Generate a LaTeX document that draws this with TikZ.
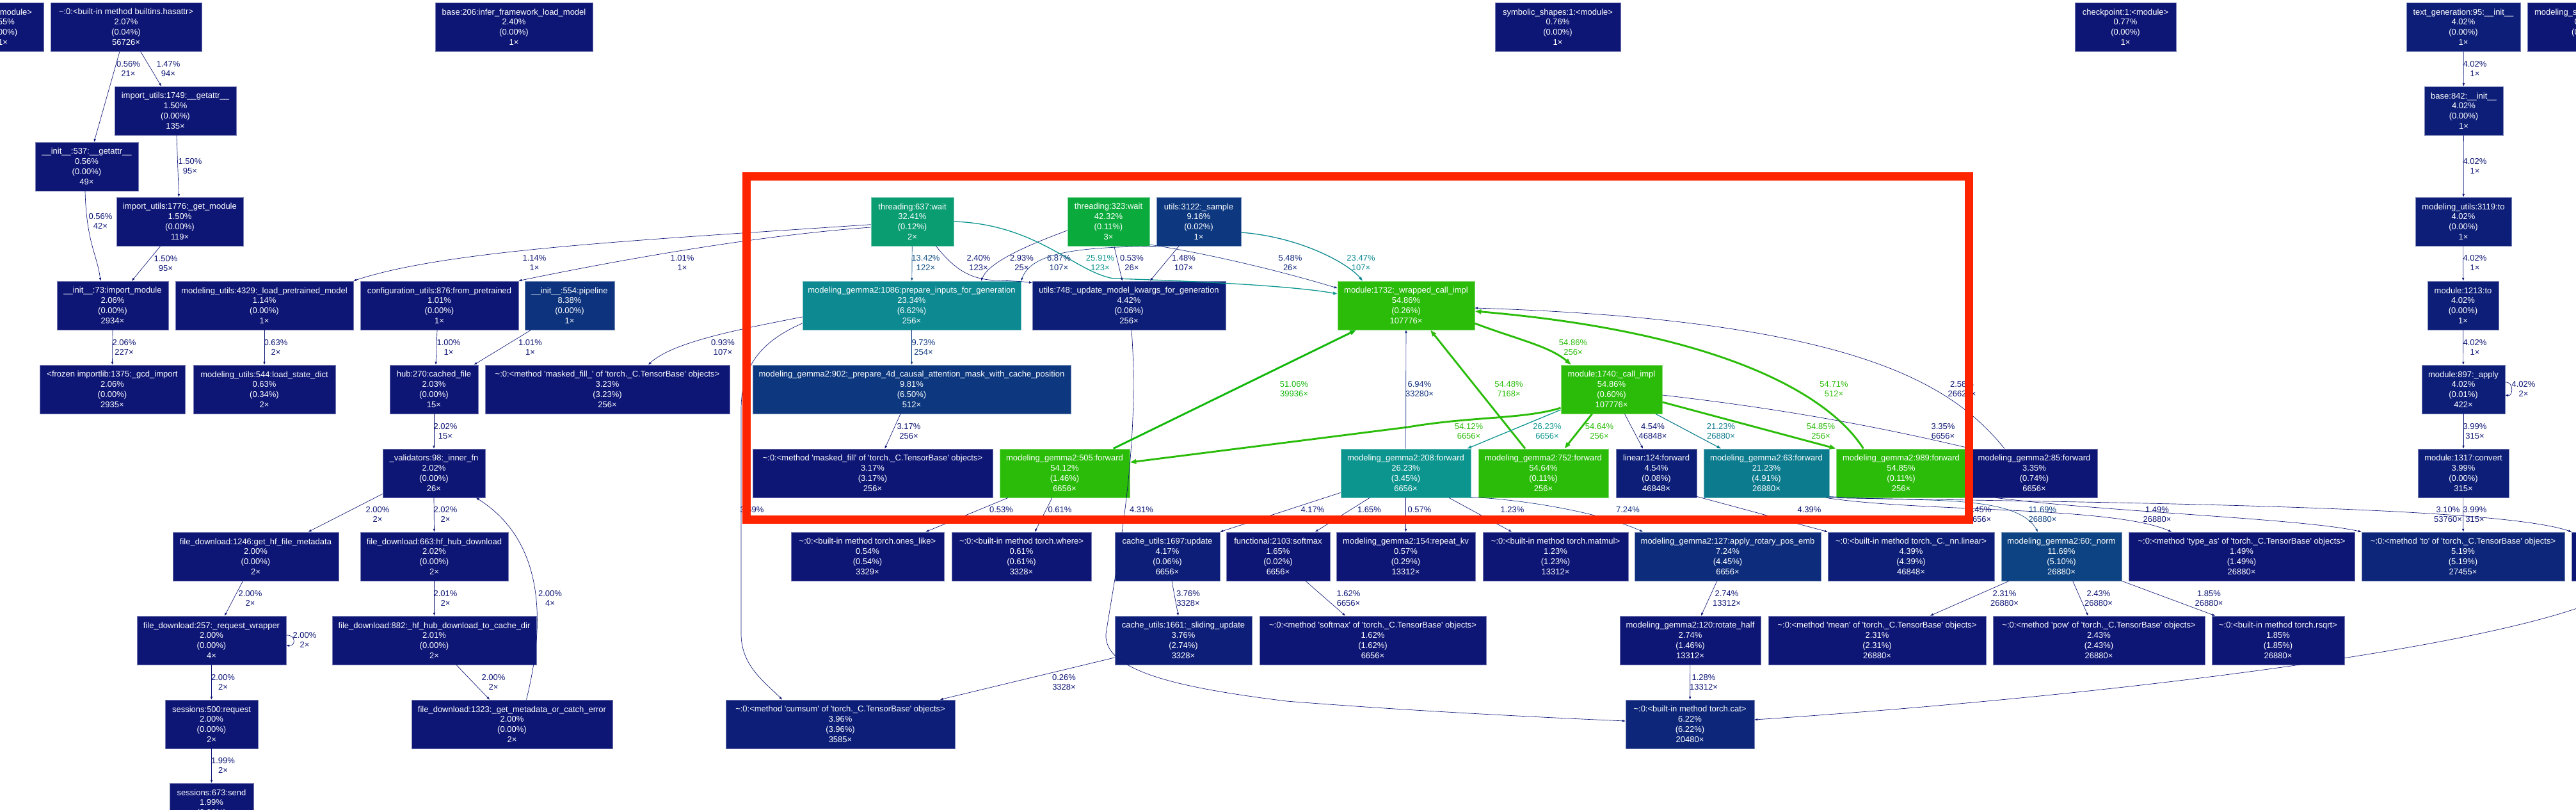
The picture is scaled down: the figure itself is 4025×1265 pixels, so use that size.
\documentclass[tikz,border=0pt]{standalone}
\usepackage{fontspec}
\setmainfont{Liberation Sans}
\usetikzlibrary{arrows.meta}
\newcommand{\gv}{\fontsize{13}{15.8}\selectfont}
\newcommand{\tbm}[1]{\textasciitilde:0:<method \textquotesingle#1\textquotesingle{} of \textquotesingle torch.\_C.TensorBase\textquotesingle{} objects>}
\newcommand{\bim}[1]{\textasciitilde:0:<built-in method #1>}
\definecolor{navy}{RGB}{13,21,117}
\definecolor{navyB}{RGB}{13,30,120}
\definecolor{blueC}{RGB}{13,38,122}
\definecolor{blueD}{RGB}{13,45,124}
\definecolor{blueE}{RGB}{13,51,126}
\definecolor{blueF}{RGB}{13,56,127}
\definecolor{blueG}{RGB}{13,67,130}
\definecolor{blueH}{RGB}{12,77,132}
\definecolor{tealA}{RGB}{12,123,142}
\definecolor{tealB}{RGB}{12,137,145}
\definecolor{tealC}{RGB}{12,149,143}
\definecolor{jade}{RGB}{11,157,114}
\definecolor{leaf}{RGB}{10,171,60}
\definecolor{lime}{RGB}{17,183,9}
\definecolor{hotgreen}{RGB}{42,188,9}
\definecolor{redframe}{RGB}{255,36,0}
\tikzset{
  fn/.style={rectangle, fill=#1, draw=#1!55!white, line width=0.9pt, text=white, align=center, inner sep=0pt, minimum height=76pt, font=\gv},
  lab/.style={text=#1, align=center, inner sep=0pt, font=\gv},
  lab/.default=navy,
  call/.style={draw=#1, line width=0.67pt, -{Triangle[length=4.7pt,width=3.3pt]}},
  call/.default=navy,
  warm/.style={draw=#1, line width=1.3pt, -{Triangle[length=6.6pt,width=4.6pt]}},
  hot/.style={draw=#1, line width=2.9pt, -{Triangle[length=9.9pt,width=6.9pt]}},
  hot/.default=hotgreen,
  hl/.style={draw=redframe, line width=13pt}
}

\begin{document}
\begin{tikzpicture}[x=1pt, y=-1pt]
\useasboundingbox (0,0) rectangle (4025,1265);
\clip (0,0) rectangle (4025,1265);
% row 1
\node[fn=navy, anchor=east, minimum width=128pt] (modtop) at (69,42) {run:1:<module>\\3.55\%\\(0.00\%)\\1×};
\node[fn=navy, minimum width=236pt] (hasattr) at (197,42) {\bim{builtins.hasattr}\\2.07\%\\(0.04\%)\\56726×};
\node[fn=navy, minimum width=246pt] (inferload) at (803,42) {base:206:infer\_framework\_load\_model\\2.40\%\\(0.00\%)\\1×};
\node[fn=navy, minimum width=196pt] (symshapes) at (2434,42) {symbolic\_shapes:1:<module>\\0.76\%\\(0.00\%)\\1×};
\node[fn=navy, minimum width=158pt] (ckpt) at (3321,42) {checkpoint:1:<module>\\0.77\%\\(0.00\%)\\1×};
\node[fn=navyB, minimum width=178pt] (textgen) at (3849,42) {text\_generation:95:\_\_init\_\_\\4.02\%\\(0.00\%)\\1×};
\node[fn=navy, anchor=west, inner xsep=10.5pt] (modcut) at (3949,42) {modeling\_siglip:1:<module>\\0.71\%\\(0.00\%)\\1×};
% rows 2 and 3
\node[fn=navy, minimum width=190pt] (getattrA) at (274,173) {import\_utils:1749:\_\_getattr\_\_\\1.50\%\\(0.00\%)\\135×};
\node[fn=navyB, minimum width=123pt] (base842) at (3849.5,173) {base:842:\_\_init\_\_\\4.02\%\\(0.00\%)\\1×};
\node[fn=navy, minimum width=161pt] (getattrB) at (135.5,260) {\_\_init\_\_:537:\_\_getattr\_\_\\0.56\%\\(0.00\%)\\49×};
% row 4
\node[fn=navy, minimum width=198pt] (getmod) at (281,346) {import\_utils:1776:\_get\_module\\1.50\%\\(0.00\%)\\119×};
\node[fn=jade, minimum width=129pt] (thr637) at (1425.5,346) {threading:637:wait\\32.41\%\\(0.12\%)\\2×};
\node[fn=leaf, minimum width=128pt] (thr323) at (1732,346) {threading:323:wait\\42.32\%\\(0.11\%)\\3×};
\node[fn=blueF, minimum width=132pt] (sample) at (1873,346) {utils:3122:\_sample\\9.16\%\\(0.02\%)\\1×};
\node[fn=navyB, minimum width=150pt] (mu3119) at (3849,346) {modeling\_utils:3119:to\\4.02\%\\(0.00\%)\\1×};
% row 5
\node[fn=navy, minimum width=174pt] (impmod) at (176,477) {\_\_init\_\_:73:import\_module\\2.06\%\\(0.00\%)\\2934×};
\node[fn=navy, minimum width=278pt] (loadpre) at (413,477) {modeling\_utils:4329:\_load\_pretrained\_model\\1.14\%\\(0.00\%)\\1×};
\node[fn=navy, minimum width=247pt] (confpre) at (686.5,477) {configuration\_utils:876:from\_pretrained\\1.01\%\\(0.00\%)\\1×};
\node[fn=blueE, minimum width=140pt] (pipeline) at (890,477) {\_\_init\_\_:554:pipeline\\8.38\%\\(0.00\%)\\1×};
\node[fn=tealB, minimum width=341pt] (prepinp) at (1424.5,477) {modeling\_gemma2:1086:prepare\_inputs\_for\_generation\\23.34\%\\(6.62\%)\\256×};
\node[fn=navyB, minimum width=302pt] (updkw) at (1764,477) {utils:748:\_update\_model\_kwargs\_for\_generation\\4.42\%\\(0.06\%)\\256×};
\node[fn=hotgreen, minimum width=214pt] (wrapped) at (2197,477) {module:1732:\_wrapped\_call\_impl\\54.86\%\\(0.26\%)\\107776×};
\node[fn=navyB, minimum width=111pt] (mod1213) at (3848.5,477) {module:1213:to\\4.02\%\\(0.00\%)\\1×};
% row 6
\node[fn=navy, minimum width=227pt] (gcdimp) at (175.5,608) {<frozen importlib:1375:\_gcd\_import\\2.06\%\\(0.00\%)\\2935×};
\node[fn=navy, minimum width=222pt] (loadsd) at (413,608) {modeling\_utils:544:load\_state\_dict\\0.63\%\\(0.34\%)\\2×};
\node[fn=navy, minimum width=138pt] (cachedf) at (678,608) {hub:270:cached\_file\\2.03\%\\(0.00\%)\\15×};
\node[fn=navy, minimum width=382pt] (mfillA) at (949,608) {\tbm{masked\_fill\_}\\3.23\%\\(3.23\%)\\256×};
\node[fn=blueF, minimum width=497pt] (prep4d) at (1424.5,608) {modeling\_gemma2:902:\_prepare\_4d\_causal\_attention\_mask\_with\_cache\_position\\9.81\%\\(6.50\%)\\512×};
\node[fn=hotgreen, minimum width=158pt] (callimpl) at (2518,608) {module:1740:\_call\_impl\\54.86\%\\(0.60\%)\\107776×};
\node[fn=navyB, minimum width=130pt] (apply897) at (3849,608) {module:897:\_apply\\4.02\%\\(0.01\%)\\422×};
% row 7
\node[fn=navy, minimum width=160pt] (innerfn) at (678,739) {\_validators:98:\_inner\_fn\\2.02\%\\(0.00\%)\\26×};
\node[fn=navy, minimum width=375pt] (mfillB) at (1363.5,739) {\tbm{masked\_fill}\\3.17\%\\(3.17\%)\\256×};
\node[fn=hotgreen, minimum width=203pt] (fwd505) at (1663.5,739) {modeling\_gemma2:505:forward\\54.12\%\\(1.46\%)\\6656×};
\node[fn=tealC, minimum width=203pt] (fwd208) at (2196.5,739) {modeling\_gemma2:208:forward\\26.23\%\\(3.45\%)\\6656×};
\node[fn=hotgreen, minimum width=203pt] (fwd752) at (2411.5,739) {modeling\_gemma2:752:forward\\54.64\%\\(0.11\%)\\256×};
\node[fn=navyB, minimum width=126pt] (lin124) at (2588,739) {linear:124:forward\\4.54\%\\(0.08\%)\\46848×};
\node[fn=tealA, minimum width=196pt] (fwd63) at (2760,739) {modeling\_gemma2:63:forward\\21.23\%\\(4.91\%)\\26880×};
\node[fn=hotgreen, minimum width=203pt] (fwd989) at (2970.5,739) {modeling\_gemma2:989:forward\\54.85\%\\(0.11\%)\\256×};
\node[fn=navy, minimum width=197pt] (fwd85) at (3178.5,739) {modeling\_gemma2:85:forward\\3.35\%\\(0.74\%)\\6656×};
\node[fn=navyB, minimum width=142pt] (convert) at (3849,739) {module:1317:convert\\3.99\%\\(0.00\%)\\315×};
% row 8
\node[fn=navy, minimum width=259pt] (hfmeta) at (399.5,869) {file\_download:1246:get\_hf\_file\_metadata\\2.00\%\\(0.00\%)\\2×};
\node[fn=navy, minimum width=231pt] (hubdl) at (678.5,869) {file\_download:663:hf\_hub\_download\\2.02\%\\(0.00\%)\\2×};
\node[fn=navy, minimum width=239pt] (oneslike) at (1355.5,869) {\bim{torch.ones\_like}\\0.54\%\\(0.54\%)\\3329×};
\node[fn=navy, minimum width=218pt] (twhere) at (1596,869) {\bim{torch.where}\\0.61\%\\(0.61\%)\\3328×};
\node[fn=navyB, minimum width=164pt] (cupdate) at (1824,869) {cache\_utils:1697:update\\4.17\%\\(0.06\%)\\6656×};
\node[fn=navy, minimum width=162pt] (fsoftmax) at (1997,869) {functional:2103:softmax\\1.65\%\\(0.02\%)\\6656×};
\node[fn=navy, minimum width=217pt] (repeatkv) at (2196.5,869) {modeling\_gemma2:154:repeat\_kv\\0.57\%\\(0.29\%)\\13312×};
\node[fn=navy, minimum width=227pt] (tmatmul) at (2430.5,869) {\bim{torch.matmul}\\1.23\%\\(1.23\%)\\13312×};
\node[fn=blueD, minimum width=291pt] (rotary) at (2699.5,869) {modeling\_gemma2:127:apply\_rotary\_pos\_emb\\7.24\%\\(4.45\%)\\6656×};
\node[fn=navyB, minimum width=260pt] (nnlinear) at (2986,869) {\bim{torch.\_C.\_nn.linear}\\4.39\%\\(4.39\%)\\46848×};
\node[fn=blueG, minimum width=188pt] (norm) at (3221,869) {modeling\_gemma2:60:\_norm\\11.69\%\\(5.10\%)\\26880×};
\node[fn=navy, minimum width=353pt] (typeas) at (3502.5,869) {\tbm{type\_as}\\1.49\%\\(1.49\%)\\26880×};
\node[fn=blueC, minimum width=317pt] (tto) at (3848.5,869) {\tbm{to}\\5.19\%\\(5.19\%)\\27455×};
\node[fn=navy, anchor=west, minimum width=90pt] (rcut) at (4018,869) {};
% row 9
\node[fn=navy, minimum width=233pt] (reqwrap) at (330.5,1000) {file\_download:257:\_request\_wrapper\\2.00\%\\(0.00\%)\\4×};
\node[fn=navy, minimum width=319pt] (hubcache) at (678.5,1000) {file\_download:882:\_hf\_hub\_download\_to\_cache\_dir\\2.01\%\\(0.00\%)\\2×};
\node[fn=navyB, minimum width=214pt] (sliding) at (1849,1000) {cache\_utils:1661:\_sliding\_update\\3.76\%\\(2.74\%)\\3328×};
\node[fn=navy, minimum width=354pt] (msoftmax) at (2145,1000) {\tbm{softmax}\\1.62\%\\(1.62\%)\\6656×};
\node[fn=navy, minimum width=220pt] (rothalf) at (2641,1000) {modeling\_gemma2:120:rotate\_half\\2.74\%\\(1.46\%)\\13312×};
\node[fn=navy, minimum width=340pt] (tmean) at (2933,1000) {\tbm{mean}\\2.31\%\\(2.31\%)\\26880×};
\node[fn=navy, minimum width=331pt] (tpow) at (3279.5,1000) {\tbm{pow}\\2.43\%\\(2.43\%)\\26880×};
\node[fn=navy, minimum width=207pt] (trsqrt) at (3559.5,1000) {\bim{torch.rsqrt}\\1.85\%\\(1.85\%)\\26880×};
% rows 10 and 11
\node[fn=navy, minimum width=145pt] (sessreq) at (330.5,1131) {sessions:500:request\\2.00\%\\(0.00\%)\\2×};
\node[fn=navy, minimum width=314pt] (metaerr) at (800,1131) {file\_download:1323:\_get\_metadata\_or\_catch\_error\\2.00\%\\(0.00\%)\\2×};
\node[fn=navyB, minimum width=358pt] (cumsum) at (1313,1131) {\tbm{cumsum}\\3.96\%\\(3.96\%)\\3585×};
\node[fn=blueC, minimum width=201pt] (tcat) at (2640.5,1131) {\bim{torch.cat}\\6.22\%\\(6.22\%)\\20480×};
\node[fn=navy, minimum width=131pt] (sesssend) at (330.5,1261) {sessions:673:send\\1.99\%\\(0.00\%)\\2×};

% loading side
\draw[call] ([xshift=-10pt]hasattr.south) -- ([xshift=11.5pt]getattrB.north);
\draw[call] ([xshift=22.6pt]hasattr.south) -- ([xshift=-22pt]getattrA.north);
\draw[call] ([xshift=2pt]getattrA.south) -- ([xshift=-1.5pt]getmod.north);
\draw[call] ([xshift=-30.4pt]getmod.south) -- ([xshift=30pt]impmod.north);
\draw[call] ([xshift=-2.5pt]getattrB.south) .. controls +(2,80) and +(-5,-40) .. ([xshift=-19pt]impmod.north);
\draw[call] (impmod.south) -- (gcdimp.north);
\draw[call] (loadpre) -- (loadsd);
\draw[call] ([xshift=-3.5pt]confpre.south) -- ([xshift=3pt]cachedf.north);
\draw[call] ([xshift=-60.4pt]pipeline.south) -- ([xshift=62.7pt]cachedf.north);
\draw[call] (cachedf) -- (innerfn);
\draw[call] ([yshift=6pt]innerfn.south west) -- ([xshift=82.3pt]hfmeta.north);
\draw[call] (innerfn.south) -- (hubdl.north);
\draw[call] ([xshift=22.5pt]metaerr.north) .. controls +(33,-133) and +(101,64) .. ([xshift=66pt]innerfn.south);
\draw[call] ([xshift=-20pt]hfmeta.south) -- ([xshift=20.5pt]reqwrap.north);
\draw[call] (hubdl) -- (hubcache);
\draw[call] ([yshift=8pt]reqwrap.east) .. controls +(15,-1) and +(15,1) .. ([yshift=-8pt]reqwrap.east);
\draw[call] (reqwrap) -- (sessreq);
\draw[call] ([xshift=34.5pt]hubcache.south) -- ([xshift=-35pt]metaerr.north);
\draw[call] (sessreq) -- (sesssend);
\draw[call] ([yshift=-4.7pt]thr637.west) .. controls (1000,375) and (700,390) .. (loadpre.north east);
\draw[call] ([yshift=-9pt]thr637.west) .. controls (1150,370) and (900,420) .. (confpre.north east);

% generation side
\draw[call=blueH] (thr637) -- (prepinp);
\draw[call] ([xshift=37pt]thr637.south) .. controls (1495,425) and (1520,437) .. (1560,438) .. controls (1590,439) and (1600,440) .. ([yshift=-3pt]updkw.north west);
\draw[call] ([yshift=-14pt]thr323.west) .. controls (1600,385) and (1545,410) .. ([xshift=108.5pt]prepinp.north);
\draw[call=blueD] (sample.south west) .. controls (1680,386) and (1612,395) .. (prepinp.north east);
\draw[warm=tealC] (thr637.east) .. controls (1620,350) and (1680,425) .. (1740,435) .. controls (1900,440) and (2030,448) .. ([yshift=18pt]wrapped.west);
\draw[call] ([xshift=8.7pt]thr323.south) -- ([xshift=-10.4pt]updkw.north);
\draw[call] ([xshift=-31pt]sample.south) -- ([xshift=33pt]updkw.north);
\draw[call=blueC] ([yshift=-36pt]thr323.east) .. controls (1880,395) and (1990,420) .. ([yshift=27pt]wrapped.west);
\draw[warm=tealB] ([yshift=-17pt]sample.east) .. controls (2030,370) and (2105,410) .. ([xshift=-68pt]wrapped.north);
\draw[call] ([xshift=4pt]updkw.south) .. controls (1782,700) and (1745,880) .. (1728,990) .. controls (1724,1050) and (1850,1075) .. (2010,1095) .. controls (2200,1110) and (2400,1120) .. ([yshift=5pt]tcat.west);
\draw[call] ([yshift=-18pt]prepinp.west) .. controls (1150,515) and (1050,535) .. ([xshift=64pt]mfillA.north);
\draw[call] ([yshift=-28pt]prepinp.west) .. controls (1185,535) and (1158,575) .. (1158,640) -- (1158,990) .. controls (1158,1040) and (1195,1065) .. ([xshift=-91pt]cumsum.north);
\draw[call=blueF] (prepinp) -- (prep4d);
\draw[call] ([xshift=-17.5pt]prep4d.south) -- ([xshift=19pt]mfillB.north);

% module calls
\draw[hot] ([yshift=-28pt]wrapped.east) .. controls (2370,530) and (2420,540) .. ([xshift=-63pt]callimpl.north);
\draw[hot=lime] ([xshift=76pt]fwd505.north) -- ([xshift=-78pt]wrapped.south);
\draw[hot] ([yshift=-29pt]callimpl.west) .. controls (2380,655) and (2300,650) .. (2200,667) -- ([yshift=17pt]fwd505.east);
\draw[call=blueD] (fwd208) -- (wrapped);
\draw[hot] ([xshift=-28.5pt]fwd752.north) -- ([xshift=38pt]wrapped.south);
\draw[warm=tealC] ([yshift=-32pt]callimpl.west) -- ([xshift=96pt]fwd208.north);
\draw[hot] ([xshift=-30.4pt]callimpl.south) -- ([xshift=33pt]fwd752.north);
\draw[call] ([xshift=20.5pt]callimpl.south) -- ([xshift=-21pt]lin124.north);
\draw[warm=tealA, line width=1.13pt] ([xshift=69pt]callimpl.south) -- ([xshift=-71pt]fwd63.north);
\draw[hot] ([yshift=-20pt]callimpl.east) -- (fwd989.north west);
\draw[hot] ([xshift=-59pt]fwd989.north) .. controls (2860,620) and (2700,520) .. ([yshift=-9pt]wrapped.east);
\draw[call] ([yshift=-9pt]callimpl.east) .. controls (2800,640) and (2950,670) .. (fwd85.north west);
\draw[call] ([xshift=-46.5pt]fwd85.north) .. controls (3050,600) and (2900,500) .. ([yshift=-4pt]wrapped.east);

% leaves
\draw[call] ([xshift=-88.5pt]fwd505.south) -- ([xshift=91pt]oneslike.north);
\draw[call] ([xshift=-19.5pt]fwd505.south) -- ([xshift=21pt]twhere.north);
\draw[call] ([yshift=8pt]fwd208.south west) -- (cupdate.north east);
\draw[call] ([xshift=-56.5pt]fwd208.south) -- ([xshift=58pt]fsoftmax.north);
\draw[call] (fwd208) -- (repeatkv);
\draw[call] ([xshift=67.5pt]fwd208.south) -- ([xshift=-68.5pt]tmatmul.north);
\draw[call=blueD] ([yshift=1pt]fwd208.south east) .. controls (2380,780) and (2500,800) .. ([xshift=-132.5pt]rotary.north);
\draw[call] ([yshift=2pt]lin124.south east) -- (nnlinear.north west);
\draw[call=blueG] ([yshift=2pt]fwd63.south east) .. controls (3000,785) and (3150,770) .. ([xshift=-37pt]norm.north);
\draw[call] ([xshift=-5pt]fwd63.south east) .. controls (3000,800) and (3300,790) .. ([xshift=-109.5pt]typeas.north);
\draw[call] (fwd63.south east) .. controls (3300,785) and (3900,790) .. (rcut.north west);
\draw[call] ([xshift=-60pt]fwd85.south) .. controls (3300,800) and (3600,810) .. (tto.north west);
\draw[call] ([xshift=45pt]rcut.south) .. controls (4040,990) and (3400,1080) .. ([yshift=7pt]tcat.east);
\draw[call] ([xshift=-16.7pt]rotary.south) -- ([xshift=17pt]rothalf.north);
\draw[call] (rothalf) -- (tcat);
\draw[call] ([xshift=7pt]cupdate.south) -- ([xshift=-8pt]sliding.north);
\draw[call] ([yshift=-27pt]sliding.west) -- ([xshift=156pt]cumsum.north);
\draw[call] ([xshift=43pt]fsoftmax.south) -- ([xshift=-43pt]msoftmax.north);
\draw[call] ([xshift=-82pt]norm.south) -- ([xshift=83pt]tmean.north);
\draw[call] ([xshift=17.7pt]norm.south) -- ([xshift=-17pt]tpow.north);
\draw[call] (norm.south east) -- ([xshift=-98.5pt]trsqrt.north);

% model moving chain
\draw[call] (textgen) -- (base842);
\draw[call] (base842) -- (mu3119);
\draw[call] (mu3119) -- (mod1213);
\draw[call] (mod1213) -- (apply897);
\draw[call] ([yshift=11pt]apply897.east) .. controls +(14,-1) and +(12,2) .. ([yshift=-9pt]apply897.east);
\draw[call] (apply897) -- (convert);
\draw[call] (convert) -- (tto);

% edge labels
\node[lab] (l1) at (200.5,107.5) {0.56\%\\21×};
\node[lab] (l2) at (263,107.5) {1.47\%\\94×};
\node[lab] (l3) at (297,259.5) {1.50\%\\95×};
\node[lab] (l4) at (259,411.5) {1.50\%\\95×};
\node[lab] (l5) at (157,345.5) {0.56\%\\42×};
\node[lab] (l6) at (194,542.5) {2.06\%\\227×};
\node[lab] (l7) at (431,542.5) {0.63\%\\2×};
\node[lab] (l8) at (701,542.5) {1.00\%\\1×};
\node[lab] (l9) at (828.5,542.5) {1.01\%\\1×};
\node[lab] (l10) at (696,673.5) {2.02\%\\15×};
\node[lab] (l11) at (590,803.5) {2.00\%\\2×};
\node[lab] (l12) at (696,803.5) {2.02\%\\2×};
\node[lab] (l13) at (859.5,934.5) {2.00\%\\4×};
\node[lab] (l14) at (391,934.5) {2.00\%\\2×};
\node[lab] (l15) at (696,934.5) {2.01\%\\2×};
\node[lab] (l16) at (476,999.5) {2.00\%\\2×};
\node[lab] (l17) at (348.5,1065.5) {2.00\%\\2×};
\node[lab] (l18) at (771,1065.5) {2.00\%\\2×};
\node[lab] (l19) at (348.5,1195.5) {1.99\%\\2×};
\node[lab] (l20) at (835,410.5) {1.14\%\\1×};
\node[lab] (l21) at (1066,410.5) {1.01\%\\1×};
\node[lab=blueH] (l22) at (1446.5,410.5) {13.42\%\\122×};
\node[lab] (l23) at (1529,410.5) {2.40\%\\123×};
\node[lab] (l24) at (1596.5,410.5) {2.93\%\\25×};
\node[lab=blueD] (l25) at (1654.5,410.5) {6.87\%\\107×};
\node[lab=tealC] (l26) at (1719,410.5) {25.91\%\\123×};
\node[lab] (l27) at (1768.5,410.5) {0.53\%\\26×};
\node[lab] (l28) at (1849.5,410.5) {1.48\%\\107×};
\node[lab=blueC] (l29) at (2016,410.5) {5.48\%\\26×};
\node[lab=tealB] (l30) at (2126.5,410.5) {23.47\%\\107×};
\node[lab] (l31) at (1783.5,803.5) {4.31\%\\512×};
\node[lab] (l32) at (1129.5,542.5) {0.93\%\\107×};
\node[lab] (l33) at (1175,803.5) {3.69\%\\257×};
\node[lab=blueF] (l34) at (1443,542.5) {9.73\%\\254×};
\node[lab] (l35) at (1420,673.5) {3.17\%\\256×};
\node[lab=hotgreen] (l36) at (2458,542.5) {54.86\%\\256×};
\node[lab=lime] (l37) at (2022,607.5) {51.06\%\\39936×};
\node[lab=hotgreen] (l38) at (2295,673.5) {54.12\%\\6656×};
\node[lab=blueD] (l39) at (2218,607.5) {6.94\%\\33280×};
\node[lab=hotgreen] (l40) at (2357.5,607.5) {54.48\%\\7168×};
\node[lab=tealC] (l41) at (2417.5,673.5) {26.23\%\\6656×};
\node[lab=hotgreen] (l42) at (2499,673.5) {54.64\%\\256×};
\node[lab] (l43) at (2582.5,673.5) {4.54\%\\46848×};
\node[lab=tealA] (l44) at (2689,673.5) {21.23\%\\26880×};
\node[lab=hotgreen] (l45) at (2845,673.5) {54.85\%\\256×};
\node[lab=hotgreen] (l46) at (2865.5,607.5) {54.71\%\\512×};
\node[lab] (l47) at (3036,673.5) {3.35\%\\6656×};
\node[lab] (l48) at (3065.5,607.5) {2.58\%\\26624×};
\node[lab] (l49) at (1564.5,803.5) {0.53\%\\3328×};
\node[lab] (l50) at (1656,803.5) {0.61\%\\3328×};
\node[lab] (l51) at (2051,803.5) {4.17\%\\6656×};
\node[lab] (l52) at (2139.5,803.5) {1.65\%\\6656×};
\node[lab] (l53) at (2218,803.5) {0.57\%\\13312×};
\node[lab] (l54) at (2363,803.5) {1.23\%\\13312×};
\node[lab=blueD] (l55) at (2543.5,803.5) {7.24\%\\6656×};
\node[lab] (l56) at (2827,803.5) {4.39\%\\46848×};
\node[lab=blueG] (l57) at (3191.5,803.5) {11.69\%\\26880×};
\node[lab] (l58) at (3370.5,803.5) {1.49\%\\26880×};
\node[lab] (l59) at (3825,803.5) {3.10\%\\53760×};
\node[lab] (l60) at (3867,803.5) {3.99\%\\315×};
\node[lab] (l61) at (3093,803.5) {0.45\%\\6656×};
\node[lab] (l62) at (2698,934.5) {2.74\%\\13312×};
\node[lab] (l63) at (2662,1065.5) {1.28\%\\13312×};
\node[lab] (l64) at (1856.5,934.5) {3.76\%\\3328×};
\node[lab] (l65) at (1662.5,1065.5) {0.26\%\\3328×};
\node[lab] (l66) at (2107,934.5) {1.62\%\\6656×};
\node[lab] (l67) at (3132,934.5) {2.31\%\\26880×};
\node[lab] (l68) at (3279,934.5) {2.43\%\\26880×};
\node[lab] (l69) at (3451.5,934.5) {1.85\%\\26880×};
\node[lab] (l70) at (3867,107.5) {4.02\%\\1×};
\node[lab] (l71) at (3867,259.5) {4.02\%\\1×};
\node[lab] (l72) at (3867,410.5) {4.02\%\\1×};
\node[lab] (l73) at (3867,542.5) {4.02\%\\1×};
\node[lab] (l74) at (3943,607.5) {4.02\%\\2×};
\node[lab] (l75) at (3867,673.5) {3.99\%\\315×};

% highlight
\draw[hl] (1166.5,275.5) rectangle (3076.5,811);
\end{tikzpicture}
\end{document}
